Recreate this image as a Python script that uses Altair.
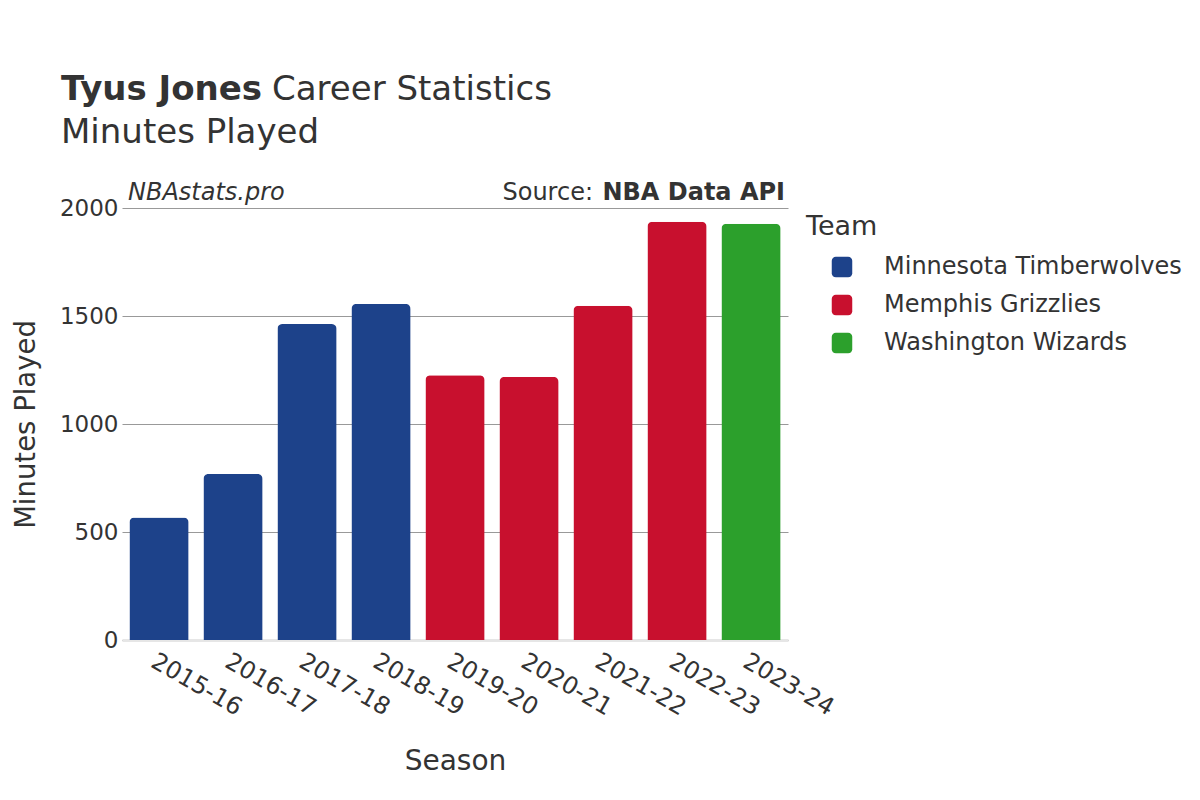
import altair as alt
import pandas as pd

seasons = ["2015-16", "2016-17", "2017-18", "2018-19", "2019-20", "2020-21", "2021-22", "2022-23", "2023-24"]
minutes = [567, 768, 1463, 1556, 1226, 1218, 1547, 1936, 1927]
teams = ["Minnesota Timberwolves", "Minnesota Timberwolves", "Minnesota Timberwolves", "Minnesota Timberwolves",
         "Memphis Grizzlies", "Memphis Grizzlies", "Memphis Grizzlies", "Memphis Grizzlies", "Washington Wizards"]
team_order = ["Minnesota Timberwolves", "Memphis Grizzlies", "Washington Wizards"]
team_colors = ["#1d428a", "#c8102e", "#2ca02c"]

df = pd.DataFrame({"Season": seasons, "Minutes Played": minutes, "Team": teams})

FONT = "DejaVu Sans"
TXT = "#333333"

rounded = ("M -0.6,-1 L 0.6,-1 A 0.4,0.4 0 0 1 1,-0.6 L 1,0.6 A 0.4,0.4 0 0 1 0.6,1 "
           "L -0.6,1 A 0.4,0.4 0 0 1 -1,0.6 L -1,-0.6 A 0.4,0.4 0 0 1 -0.6,-1 Z")

bars = alt.Chart(df).mark_bar(cornerRadiusTopLeft=5, cornerRadiusTopRight=5).encode(
    x=alt.X("Season:N", sort=seasons, title="Season",
            scale=alt.Scale(paddingInner=0.2, paddingOuter=0.1),
            axis=alt.Axis(labelAngle=30, labelFontSize=24, labelColor=TXT, labelFont=FONT,
                          titleFontSize=28, titleFont=FONT, titleColor=TXT, titleFontWeight="normal",
                          titlePadding=28, domainColor="#e6e6e6", domainWidth=3, ticks=False,
                          labelPadding=9, labelAlign="left", labelBaseline="top")),
    y=alt.Y("Minutes Played:Q", title="Minutes Played",
            scale=alt.Scale(domain=[0, 2000]),
            axis=alt.Axis(values=[0, 500, 1000, 1500, 2000], format="d", labelFontSize=23,
                          labelColor=TXT, labelFont=FONT, titleFontSize=27.5, titleFont=FONT,
                          titleColor=TXT, titleFontWeight="normal", titlePadding=19, domain=False,
                          ticks=False, gridColor="#999999", gridWidth=1, labelPadding=4)),
    color=alt.Color("Team:N", sort=team_order,
                    scale=alt.Scale(domain=team_order, range=team_colors),
                    legend=alt.Legend(title="Team", titleFontSize=27, titleFont=FONT, titleColor=TXT,
                                      titleFontWeight="normal", labelFontSize=24, labelFont=FONT,
                                      labelColor=TXT, labelLimit=0, symbolType=rounded, symbolSize=420,
                                      symbolOffset=24, labelOffset=30, rowPadding=14,
                                      titlePadding=14, orient="none", legendX=684, legendY=6,
                                      symbolStrokeWidth=0)),
)


def txt(s, x, y, size, weight="normal", style="normal", align="left"):
    return alt.Chart(pd.DataFrame({"t": [s]})).mark_text(
        font=FONT, fontSize=size, fontWeight=weight, fontStyle=style, align=align,
        baseline="alphabetic", color=TXT
    ).encode(text="t:N", x=alt.value(x), y=alt.value(y))


title_bold = txt("Tyus Jones", -61, -108, 34, weight="bold")
title_rest = txt("Career Statistics", 150, -108, 34)
title_line2 = txt("Minutes Played", -61, -65, 34)
brand = txt("NBAstats.pro", 6, -8, 24, style="italic")
source_lbl = txt("Source:", 471, -8, 24, align="right")
source_val = txt("NBA Data API", 663, -8, 24, weight="bold", align="right")

chart = alt.layer(bars, title_bold, title_rest, title_line2, brand, source_lbl, source_val).properties(
    width=666, height=432,
    autosize=alt.AutoSizeParams(type="none"),
    padding={"left": 114, "top": 200, "right": 404, "bottom": 152},
).configure(font=FONT).configure_view(strokeWidth=0, stroke="transparent")

chart.save("out.html", embed_options={"renderer": "svg", "actions": False})
